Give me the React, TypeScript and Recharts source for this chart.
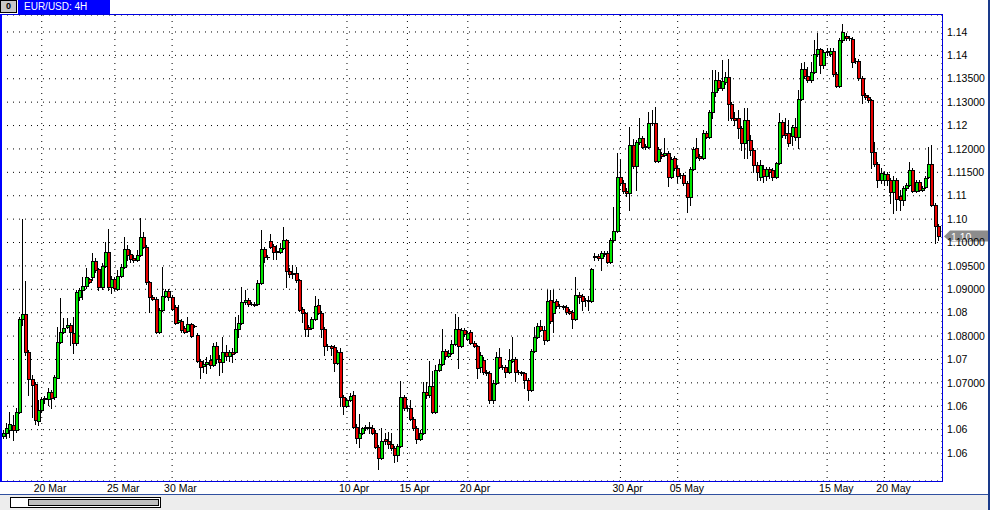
import { ComposedChart, Bar, XAxis, YAxis, CartesianGrid, ReferenceLine } from "recharts";

// EUR/USD 4H candles (oldest -> newest)
const opens = [
  1.0586, 1.0593, 1.0599, 1.061, 1.0599, 1.0638, 1.0837, 1.0847, 1.0766, 1.0708,
  1.0697, 1.0619, 1.0642, 1.0666, 1.0666, 1.0681, 1.067, 1.0712, 1.0788, 1.0809,
  1.0819, 1.0823, 1.0807, 1.0786, 1.0883, 1.0898, 1.0907, 1.0922, 1.0926, 1.0961,
  1.0944, 1.0905, 1.095, 1.098, 1.0905, 1.0922, 1.0902, 1.0929, 1.0948, 1.0986,
  1.0975, 1.0967, 1.0963, 1.0973, 1.1012, 1.099, 1.0915, 1.0883, 1.0879, 1.0809,
  1.0856, 1.0886, 1.0896, 1.0883, 1.0862, 1.083, 1.0832, 1.0817, 1.0811, 1.0826,
  1.0821, 1.0802, 1.0747, 1.0736, 1.074, 1.0749, 1.0738, 1.0779, 1.0751, 1.0745,
  1.0766, 1.0757, 1.0766, 1.0766, 1.0815, 1.0828, 1.0873, 1.0877, 1.0868, 1.0868,
  1.0868, 1.0913, 1.0986, 1.0969, 1.1003, 1.0992, 1.098, 1.098, 1.0988, 1.1005,
  1.0939, 1.0933, 1.0935, 1.092, 1.0858, 1.0849, 1.0819, 1.0817, 1.0837, 1.0866,
  1.0849, 1.0815, 1.0779, 1.0779, 1.0777, 1.0743, 1.0766, 1.067, 1.065, 1.0663,
  1.0674, 1.0606, 1.0582, 1.0593, 1.0604, 1.0606, 1.0604, 1.0593, 1.0563, 1.054,
  1.058, 1.0576, 1.0569, 1.0561, 1.0546, 1.0565, 1.067, 1.0646, 1.0646, 1.0623,
  1.0604, 1.058, 1.0593, 1.0681, 1.0674, 1.0693, 1.0638, 1.0727, 1.074, 1.0768,
  1.0757, 1.0764, 1.0783, 1.0815, 1.0779, 1.0813, 1.0794, 1.0809, 1.0786, 1.0779,
  1.0734, 1.0749, 1.0723, 1.0721, 1.0663, 1.07, 1.0755, 1.0734, 1.0734, 1.0723,
  1.0747, 1.0751, 1.0723, 1.0723, 1.0721, 1.0706, 1.0685, 1.0768, 1.0798, 1.0821,
  1.0813, 1.0792, 1.0877, 1.0849, 1.0875, 1.0864, 1.0864, 1.0862, 1.0854, 1.0852,
  1.0837, 1.0888, 1.0886, 1.0877, 1.0877, 1.0875, 1.0969, 1.0971, 1.0967, 1.0978,
  1.0978, 1.0959, 1.1005, 1.1025, 1.114, 1.1127, 1.111, 1.1106, 1.1208, 1.1164,
  1.1215, 1.1223, 1.1206, 1.1204, 1.1256, 1.1256, 1.1174, 1.1189, 1.1187, 1.1191,
  1.114, 1.1181, 1.1159, 1.1145, 1.1145, 1.1127, 1.1097, 1.1157, 1.1202, 1.1185,
  1.1181, 1.1234, 1.1226, 1.1279, 1.1322, 1.1347, 1.133, 1.1343, 1.1354, 1.1296,
  1.1266, 1.1266, 1.1245, 1.1213, 1.1262, 1.1219, 1.1198, 1.1166, 1.114, 1.1157,
  1.1142, 1.1157, 1.1155, 1.114, 1.117, 1.1258, 1.1234, 1.1234, 1.1228, 1.1247,
  1.1226, 1.1307, 1.1371, 1.1356, 1.1347, 1.1365, 1.1403, 1.1414, 1.138, 1.1407,
  1.1403, 1.1409, 1.136, 1.1334, 1.1433, 1.1441, 1.1437, 1.1435, 1.1388, 1.1388,
  1.1352, 1.1315, 1.1311, 1.1305, 1.1193, 1.1168, 1.1134, 1.1134, 1.1147, 1.1134,
  1.1108, 1.1134, 1.1099, 1.1091, 1.1117, 1.1123, 1.1155, 1.111, 1.1129, 1.1112,
  1.1119, 1.114, 1.1168, 1.108, 1.1035,
];

const highs = [
  1.0599, 1.0615, 1.0638, 1.0631, 1.0646, 1.0841, 1.1051, 1.0918, 1.077, 1.0716,
  1.0702, 1.0663, 1.067, 1.0672, 1.0689, 1.0685, 1.0716, 1.0819, 1.0881, 1.0839,
  1.0839, 1.0828, 1.0841, 1.0898, 1.0902, 1.0926, 1.0946, 1.0924, 1.0978, 1.0967,
  1.0946, 1.0957, 1.1001, 1.1029, 1.0929, 1.0926, 1.0941, 1.0954, 1.1012, 1.0994,
  1.0984, 1.0973, 1.0984, 1.1053, 1.1023, 1.0994, 1.0918, 1.0888, 1.0883, 1.086,
  1.0948, 1.09, 1.09, 1.0888, 1.0866, 1.0866, 1.0837, 1.0821, 1.0841, 1.0828,
  1.0823, 1.0807, 1.0751, 1.0749, 1.0755, 1.0759, 1.0786, 1.0788, 1.0759, 1.0798,
  1.0781, 1.077, 1.0775, 1.0841, 1.0845, 1.0905, 1.0898, 1.0881, 1.0873, 1.0873,
  1.092, 1.1027, 1.099, 1.0973, 1.1018, 1.0997, 1.0994, 1.0999, 1.1033, 1.1007,
  1.0946, 1.0952, 1.0948, 1.0922, 1.0862, 1.0852, 1.0823, 1.0841, 1.0886, 1.0879,
  1.0854, 1.0819, 1.0783, 1.0781, 1.0781, 1.077, 1.0775, 1.0674, 1.0668, 1.0678,
  1.0683, 1.0612, 1.0633, 1.0606, 1.061, 1.0617, 1.061, 1.0599, 1.0567, 1.0604,
  1.0593, 1.0595, 1.0593, 1.0565, 1.0569, 1.0704, 1.0674, 1.065, 1.0663, 1.0627,
  1.0608, 1.0599, 1.0702, 1.0702, 1.0747, 1.0725, 1.0738, 1.0751, 1.0815, 1.0772,
  1.077, 1.0792, 1.0847, 1.0841, 1.0817, 1.0817, 1.0811, 1.0813, 1.079, 1.0781,
  1.0766, 1.0755, 1.0727, 1.0725, 1.0706, 1.0766, 1.0775, 1.0738, 1.0738, 1.0772,
  1.0798, 1.0755, 1.0727, 1.0725, 1.0723, 1.071, 1.0772, 1.0819, 1.0828, 1.0834,
  1.0821, 1.0898, 1.0898, 1.0898, 1.0879, 1.0868, 1.0866, 1.0866, 1.0858, 1.0856,
  1.0926, 1.0894, 1.089, 1.0881, 1.0886, 1.0946, 1.0978, 1.0976, 1.0982, 1.0982,
  1.0982, 1.101, 1.1076, 1.1191, 1.1176, 1.1134, 1.1117, 1.1247, 1.1221, 1.1219,
  1.1266, 1.1228, 1.1211, 1.1279, 1.1283, 1.129, 1.1204, 1.1194, 1.1223, 1.1196,
  1.1183, 1.1185, 1.1164, 1.1149, 1.1149, 1.1132, 1.1161, 1.1204, 1.1223, 1.1189,
  1.1241, 1.1238, 1.1283, 1.1369, 1.1369, 1.1365, 1.139, 1.1365, 1.1392, 1.1301,
  1.1279, 1.1283, 1.1249, 1.1288, 1.1288, 1.123, 1.1202, 1.1172, 1.1176, 1.1166,
  1.1161, 1.1161, 1.1159, 1.1172, 1.1277, 1.1262, 1.1266, 1.1262, 1.1251, 1.1266,
  1.1326, 1.1384, 1.1386, 1.1375, 1.1386, 1.1433, 1.1448, 1.1416, 1.1412, 1.1416,
  1.1416, 1.1416, 1.1365, 1.1437, 1.1467, 1.1448, 1.1441, 1.1439, 1.1394, 1.1392,
  1.1356, 1.132, 1.1315, 1.1307, 1.1215, 1.1172, 1.1159, 1.1151, 1.1151, 1.1138,
  1.1142, 1.1138, 1.1112, 1.1121, 1.1127, 1.1172, 1.1159, 1.1134, 1.1134, 1.1121,
  1.1142, 1.1204, 1.1208, 1.1084, 1.104,
];

const lows = [
  1.0582, 1.0582, 1.0584, 1.0578, 1.0595, 1.0636, 1.0823, 1.0759, 1.0674, 1.0627,
  1.0612, 1.061, 1.0638, 1.0657, 1.0652, 1.0646, 1.0666, 1.071, 1.0786, 1.0807,
  1.0817, 1.0781, 1.0764, 1.0781, 1.0877, 1.0879, 1.0902, 1.0913, 1.092, 1.0937,
  1.0898, 1.09, 1.0948, 1.0898, 1.0892, 1.0898, 1.0898, 1.0926, 1.0946, 1.0963,
  1.0959, 1.0959, 1.0961, 1.0971, 1.0988, 1.0911, 1.0852, 1.0877, 1.0807, 1.0807,
  1.0854, 1.0883, 1.0877, 1.0856, 1.0826, 1.0828, 1.0809, 1.0807, 1.0809, 1.0798,
  1.0819, 1.0745, 1.071, 1.0723, 1.0721, 1.0732, 1.0736, 1.0743, 1.0716, 1.0723,
  1.0749, 1.0747, 1.0745, 1.0764, 1.0798, 1.0826, 1.0868, 1.0864, 1.0866, 1.0864,
  1.0866, 1.0911, 1.0959, 1.0965, 1.0988, 1.0965, 1.0965, 1.0978, 1.0986, 1.0905,
  1.0926, 1.0924, 1.0915, 1.0854, 1.083, 1.08, 1.08, 1.0815, 1.0834, 1.0847,
  1.0798, 1.0759, 1.077, 1.0759, 1.0725, 1.074, 1.065, 1.0633, 1.0648, 1.0661,
  1.0604, 1.0571, 1.0563, 1.059, 1.0599, 1.0593, 1.059, 1.0561, 1.0516, 1.0537,
  1.0569, 1.0561, 1.0556, 1.0531, 1.0533, 1.0563, 1.0642, 1.0642, 1.0621, 1.0599,
  1.0571, 1.0578, 1.059, 1.0668, 1.067, 1.0636, 1.0636, 1.0725, 1.0738, 1.0753,
  1.0755, 1.0761, 1.0781, 1.0732, 1.0777, 1.08, 1.0792, 1.0783, 1.0777, 1.071,
  1.0723, 1.0718, 1.0716, 1.0657, 1.0657, 1.0697, 1.0732, 1.0729, 1.0712, 1.0721,
  1.0745, 1.0704, 1.0718, 1.0716, 1.0689, 1.0663, 1.0683, 1.0766, 1.0796, 1.0811,
  1.0783, 1.079, 1.0828, 1.0809, 1.086, 1.086, 1.0858, 1.0847, 1.0847, 1.0817,
  1.0834, 1.0871, 1.0856, 1.0864, 1.0856, 1.0873, 1.0963, 1.0963, 1.0941, 1.0971,
  1.0956, 1.0956, 1.1003, 1.1023, 1.1123, 1.1106, 1.11, 1.107, 1.1159, 1.1112,
  1.1211, 1.1202, 1.12, 1.1202, 1.1251, 1.1172, 1.1172, 1.1181, 1.1185, 1.1121,
  1.1138, 1.1155, 1.1129, 1.1138, 1.1123, 1.1065, 1.108, 1.1155, 1.1181, 1.1176,
  1.1179, 1.1223, 1.1223, 1.1266, 1.1313, 1.1326, 1.1326, 1.1339, 1.1262, 1.1262,
  1.1251, 1.1223, 1.1198, 1.1181, 1.1181, 1.1187, 1.1151, 1.1134, 1.1134, 1.1129,
  1.1134, 1.1138, 1.1134, 1.1138, 1.1168, 1.1226, 1.1223, 1.1206, 1.1208, 1.1219,
  1.1202, 1.1305, 1.1352, 1.1343, 1.1343, 1.1362, 1.1399, 1.1362, 1.1373, 1.1401,
  1.1399, 1.1356, 1.1332, 1.1332, 1.1429, 1.1433, 1.1433, 1.1375, 1.1384, 1.1347,
  1.1298, 1.1307, 1.1301, 1.1159, 1.1164, 1.1119, 1.1127, 1.1123, 1.1123, 1.1084,
  1.1063, 1.107, 1.107, 1.108, 1.1112, 1.1121, 1.1108, 1.1108, 1.111, 1.111,
  1.1117, 1.1138, 1.1078, 1.0999, 1.1005,
];

const closes = [
  1.0593, 1.0604, 1.0612, 1.0599, 1.0638, 1.0837, 1.0847, 1.0766, 1.0708, 1.0695,
  1.0619, 1.0642, 1.0666, 1.0668, 1.0681, 1.0668, 1.0712, 1.0788, 1.0809, 1.0817,
  1.0823, 1.0807, 1.0786, 1.0894, 1.0898, 1.0907, 1.0926, 1.0915, 1.0961, 1.0941,
  1.0905, 1.095, 1.098, 1.0905, 1.0922, 1.0902, 1.0929, 1.0948, 1.0986, 1.0973,
  1.0965, 1.0963, 1.0973, 1.1012, 1.099, 1.0915, 1.0883, 1.0879, 1.0809, 1.0856,
  1.0886, 1.0896, 1.0883, 1.0858, 1.0828, 1.0834, 1.0813, 1.0809, 1.0826, 1.08,
  1.0821, 1.0747, 1.0734, 1.074, 1.0745, 1.0738, 1.0779, 1.0751, 1.0745, 1.0766,
  1.0757, 1.0766, 1.0761, 1.0815, 1.0828, 1.0873, 1.0877, 1.0868, 1.0868, 1.0866,
  1.0913, 1.0986, 1.0969, 1.0969, 1.099, 1.098, 1.0982, 1.0988, 1.1005, 1.0939,
  1.0933, 1.0935, 1.092, 1.0856, 1.0849, 1.0815, 1.0815, 1.0837, 1.0864, 1.0849,
  1.0815, 1.0779, 1.0779, 1.0775, 1.0743, 1.0766, 1.067, 1.065, 1.0663, 1.0672,
  1.0606, 1.0582, 1.0593, 1.0604, 1.0606, 1.0604, 1.0593, 1.0563, 1.054, 1.0576,
  1.0576, 1.0569, 1.0561, 1.0546, 1.0565, 1.067, 1.0646, 1.0646, 1.0623, 1.0604,
  1.058, 1.0593, 1.0681, 1.0674, 1.0693, 1.0638, 1.0727, 1.074, 1.0768, 1.0757,
  1.0764, 1.0783, 1.0815, 1.0779, 1.0813, 1.0804, 1.0807, 1.0786, 1.0779, 1.0732,
  1.0759, 1.0723, 1.0721, 1.0663, 1.07, 1.0755, 1.0734, 1.0734, 1.0723, 1.0749,
  1.0751, 1.0723, 1.0723, 1.0721, 1.0706, 1.0685, 1.0768, 1.0798, 1.0821, 1.0813,
  1.0792, 1.0875, 1.0832, 1.0873, 1.0864, 1.0864, 1.0862, 1.0852, 1.0849, 1.0837,
  1.0888, 1.0883, 1.0875, 1.0877, 1.0875, 1.0944, 1.0971, 1.0967, 1.0978, 1.0976,
  1.0959, 1.1005, 1.1025, 1.114, 1.1127, 1.111, 1.1106, 1.1208, 1.1164, 1.1215,
  1.1223, 1.1204, 1.1204, 1.1256, 1.1256, 1.1174, 1.12, 1.1185, 1.1191, 1.114,
  1.1179, 1.1159, 1.1142, 1.1145, 1.1127, 1.1097, 1.1157, 1.12, 1.1183, 1.1181,
  1.1234, 1.1226, 1.1279, 1.1322, 1.1347, 1.133, 1.1345, 1.1354, 1.1296, 1.1266,
  1.1262, 1.1245, 1.1213, 1.1262, 1.1219, 1.1198, 1.1166, 1.1151, 1.1166, 1.1142,
  1.1157, 1.1151, 1.114, 1.117, 1.1258, 1.123, 1.123, 1.1213, 1.1247, 1.1226,
  1.1307, 1.1371, 1.1356, 1.1347, 1.1365, 1.1403, 1.1414, 1.138, 1.1407, 1.1409,
  1.1409, 1.136, 1.1334, 1.1433, 1.145, 1.1437, 1.1437, 1.1386, 1.1388, 1.1352,
  1.1315, 1.1311, 1.1305, 1.1193, 1.1168, 1.1134, 1.1149, 1.1147, 1.1134, 1.1108,
  1.1134, 1.1093, 1.1091, 1.1117, 1.1123, 1.1155, 1.111, 1.1129, 1.1112, 1.1117,
  1.1138, 1.1168, 1.108, 1.1035, 1.1014,
];

// price grid and the (oddly rounded) labels the terminal prints for it
const yTicks = [
  1.145, 1.14, 1.135, 1.13, 1.125, 1.12, 1.115, 1.11, 1.105, 1.1,
  1.095, 1.09, 1.085, 1.08, 1.075, 1.07, 1.065, 1.06, 1.055,
];
const yTickLabels = [
  "1.14", "1.14", "1.13500", "1.13000", "1.12", "1.12000", "1.11500", "1.11", "1.10", "1.10000",
  "1.09500", "1.09000", "1.08", "1.08000", "1.07", "1.07000", "1.06", "1.06", "1.06",
];

// bar index where each date label / vertical grid line sits
const xTickBars = [12, 35, 53, 108, 127, 146, 194, 212, 259, 277];
const xTickLabels = ["20 Mar", "25 Mar", "30 Mar", "10 Apr", "15 Apr", "20 Apr", "30 Apr", "05 May", "15 May", "20 May"];

const lastPriceLabel = "1.10";

const UP = "#00e600";
const DOWN = "#e60000";
const FRAME = "#0000e0";
const FONT = "'Liberation Sans', Arial, sans-serif";

const data = opens.map((o, i) => ({
  i,
  open: o,
  high: highs[i],
  low: lows[i],
  close: closes[i],
  range: [lows[i], highs[i]],
}));

function Candle(props: any) {
  const { x, y, width, height, payload } = props;
  if (x == null || y == null) return null;
  const top = Math.min(y, y + height);
  const h = Math.abs(height);
  const { open, close, high, low } = payload;
  const span = high - low || 1;
  const toY = (v: number) => top + ((high - v) / span) * h;
  const px = Math.floor(x + width / 2);
  const yo = toY(open);
  const yc = toY(close);
  const bTop = Math.round(Math.min(yo, yc));
  const bH = Math.round(Math.abs(yc - yo));
  return (
    <g shapeRendering="crispEdges">
      <line x1={px + 0.5} x2={px + 0.5} y1={Math.round(top)} y2={Math.round(top + h) + 1} stroke="#000" />
      {bH < 1 ? (
        <line x1={px - 1} x2={px + 3} y1={bTop + 0.5} y2={bTop + 0.5} stroke="#000" />
      ) : (
        <rect
          x={px - 0.5}
          y={bTop + 0.5}
          width={3}
          height={bH}
          fill={close > open ? UP : DOWN}
          stroke="#000"
        />
      )}
    </g>
  );
}

function DateTick(props: any) {
  const { x, y, payload } = props;
  const k = xTickBars.indexOf(payload.value);
  return (
    <text x={x - 8} y={y + 11} fontSize={10.5} fontFamily={FONT} fill="#000" textAnchor="start">
      {k >= 0 ? xTickLabels[k] : ""}
    </text>
  );
}

function PriceTag(props: any) {
  const vb = props.viewBox;
  if (!vb) return null;
  const x0 = vb.x + vb.width + 2;
  const cy = Math.round(vb.y) + 0.5;
  return (
    <g>
      <polygon
        points={`${x0},${cy} ${x0 + 6},${cy - 6} ${x0 + 45},${cy - 6} ${x0 + 45},${cy + 5} ${x0 + 6},${cy + 5}`}
        fill="#8c8c8c"
      />
      <text x={x0 + 7} y={cy + 4} fontSize={10.5} fontFamily={FONT} fill="#fff">
        {lastPriceLabel}
      </text>
    </g>
  );
}

export default function App() {
  return (
    <div style={{ position: "relative", width: 990, height: 510, background: "#fff", overflow: "hidden" }}>
      <style>{"body{margin:0}"}</style>
      <ComposedChart
        width={990}
        height={495}
        data={data}
        margin={{ top: 15, right: 0, bottom: 0, left: 1 }}
        barCategoryGap={0}
        barGap={0}
      >
        <CartesianGrid stroke="#000" strokeDasharray="1 5" />
        <XAxis
          dataKey="i"
          type="category"
          ticks={xTickBars}
          interval={0}
          tick={<DateTick />}
          tickLine={false}
          axisLine={false}
          tickSize={0}
          tickMargin={0}
          height={14}
          padding={{ left: 1, right: 2 }}
        />
        <YAxis
          orientation="right"
          width={48}
          domain={[1.04902, 1.14863]}
          allowDataOverflow
          ticks={yTicks}
          interval={0}
          tickFormatter={(v: number) => yTickLabels[yTicks.indexOf(v)] ?? ""}
          tick={{ fontSize: 10.5, fontFamily: FONT, fill: "#000" }}
          tickLine={false}
          axisLine={false}
          tickSize={0}
          tickMargin={5}
        />
        <Bar dataKey="range" shape={<Candle />} isAnimationActive={false} />
        <ReferenceLine y={closes[closes.length - 1]} stroke="none" label={<PriceTag />} />
      </ComposedChart>

      {/* plot frame */}
      <div
        style={{
          position: "absolute",
          left: 0,
          top: 14,
          width: 943,
          height: 468,
          boxSizing: "border-box",
          borderTop: `1px solid ${FRAME}`,
          borderRight: `1px solid ${FRAME}`,
          borderBottom: `1px solid ${FRAME}`,
          borderLeft: "2px solid #0000ff",
          pointerEvents: "none",
        }}
      />

      {/* window title tab */}
      <div
        style={{
          position: "absolute",
          left: 0,
          top: 0,
          width: 17,
          height: 13,
          boxSizing: "border-box",
          background: "#c8c8c8",
          border: "1px solid #000",
          fontFamily: FONT,
          fontSize: 9,
          fontWeight: 700,
          lineHeight: "11px",
          textAlign: "center",
        }}
      >
        0
      </div>
      <div
        style={{
          position: "absolute",
          left: 18,
          top: 0,
          width: 92,
          height: 14,
          background: "#0000ff",
          color: "#fff",
          fontFamily: FONT,
          fontSize: 10,
          lineHeight: "14px",
          paddingLeft: 6,
          boxSizing: "border-box",
        }}
      >
        EUR/USD: 4H
      </div>

      {/* bottom scrollbar strip */}
      <div
        style={{
          position: "absolute",
          left: 0,
          top: 494,
          width: 990,
          height: 16,
          background: "#ededed",
          borderTop: "1px solid #3050a0",
          boxSizing: "border-box",
        }}
      >
        <div
          style={{
            position: "absolute",
            left: 10,
            top: 2,
            width: 151,
            height: 11,
            background: "#fff",
            border: "1px solid #000",
            boxSizing: "border-box",
          }}
        >
          <div
            style={{
              position: "absolute",
              left: 17,
              top: 1,
              width: 131,
              height: 7,
              background: "#c0c0c0",
              border: "1px solid #000",
              boxSizing: "border-box",
            }}
          />
        </div>
      </div>

      {/* right window edge */}
      <div style={{ position: "absolute", left: 988, top: 0, width: 2, height: 510, background: "#1a3a8a" }} />
    </div>
  );
}
